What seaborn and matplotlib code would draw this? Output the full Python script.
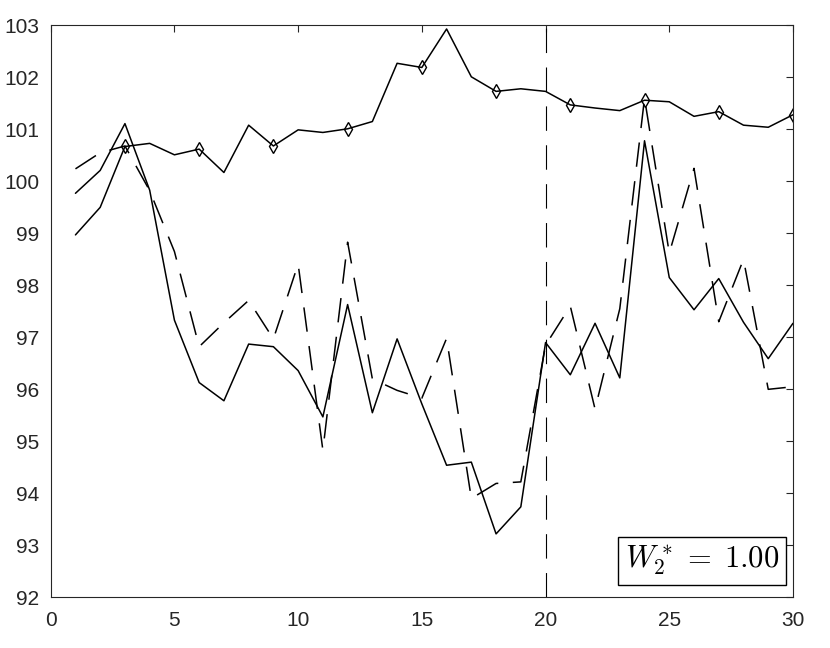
import matplotlib
matplotlib.use("Agg")
import matplotlib.pyplot as plt
import seaborn as sns
import pandas as pd

# values
steps = list(range(1, 31))
upper = [98.97, 99.50, 100.67, 100.73, 100.51, 100.62, 100.17, 101.08, 100.68, 100.99,
         100.94, 101.01, 101.15, 102.27, 102.19, 102.93, 102.01, 101.73, 101.78, 101.73,
         101.47, 101.41, 101.36, 101.56, 101.53, 101.25, 101.34, 101.08, 101.04, 101.28]
lower = [99.77, 100.21, 101.11, 99.83, 97.33, 96.13, 95.78, 96.87, 96.82, 96.36,
         95.47, 97.63, 95.55, 96.97, 95.72, 94.54, 94.60, 93.22, 93.74, 96.90,
         96.28, 97.27, 96.22, 100.78, 98.15, 97.53, 98.13, 97.29, 96.59, 97.27]
dashed = [100.24, 100.55, 100.68, 99.82, 98.65, 96.82, 97.28, 97.71, 96.97, 98.41,
          94.83, 98.83, 96.20, 95.98, 95.83, 96.98, 93.90, 94.19, 94.22, 96.85,
          97.60, 95.62, 97.55, 101.60, 98.62, 100.25, 97.30, 98.50, 96.00, 96.05]
split_at = 20
w2_label = r"$W_2^*\,=\;1.00$"
x_ticks = [0, 5, 10, 15, 20, 25, 30]
y_ticks = list(range(92, 104))

df = pd.DataFrame({"step": steps, "upper": upper, "lower": lower, "dashed": dashed})

sns.set_style("white")
plt.rcParams["font.family"] = ["Liberation Sans", "DejaVu Sans"]
plt.rcParams["mathtext.fontset"] = "cm"

axis_grey = "#262626"

fig = plt.figure(figsize=(8.3, 6.48), dpi=100)
ax = fig.add_axes([0.0611, 0.0782, 0.8943, 0.8827])

sns.lineplot(data=df, x="step", y="dashed", color="k", linewidth=1.1,
             linestyle=(0, (16, 9.5)), ax=ax)
sns.lineplot(data=df, x="step", y="lower", color="k", linewidth=1.1, ax=ax)
sns.lineplot(data=df, x="step", y="upper", color="k", linewidth=1.1,
             marker="d", markersize=7, markerfacecolor="none",
             markeredgecolor="k", markeredgewidth=1.0,
             markevery=slice(2, None, 3), ax=ax)

ax.axvline(split_at, color="k", linewidth=0.8, linestyle=(0, (22, 13)))

ax.set_xlim(0, 30)
ax.set_ylim(92, 103)
ax.set_xticks(x_ticks)
ax.set_yticks(y_ticks)
ax.set_xlabel("")
ax.set_ylabel("")

for side in ["left", "right", "top", "bottom"]:
    ax.spines[side].set_visible(True)
    ax.spines[side].set_color(axis_grey)
    ax.spines[side].set_linewidth(0.8)

ax.tick_params(axis="both", direction="in", length=5, width=0.8, color=axis_grey,
               labelcolor=axis_grey, labelsize=15, top=True, right=True)
ax.tick_params(axis="x", pad=10)
ax.tick_params(axis="y", pad=8)

ax.text(0.981, 0.034, w2_label, transform=ax.transAxes, ha="right", va="bottom",
        fontsize=22, color="k",
        bbox=dict(boxstyle="square,pad=0.22", facecolor="white", edgecolor="k", linewidth=1.0))

plt.savefig("out.png", dpi=100)
